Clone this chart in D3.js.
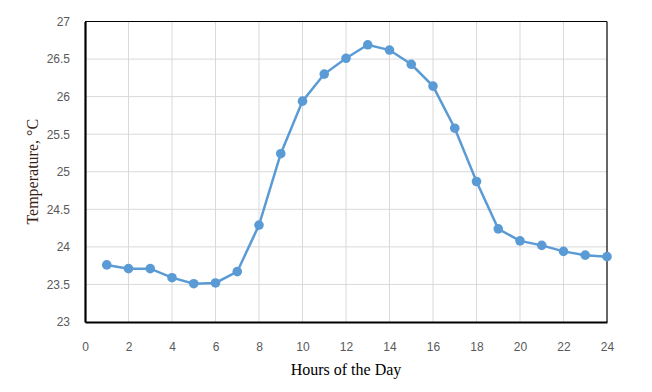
<!DOCTYPE html>
<html>
<head>
<meta charset="utf-8">
<script src="https://cdn.jsdelivr.net/npm/d3@7"></script>
<style>
  body { margin: 0; background: #fff; }
</style>
</head>
<body>
<svg width="652" height="392"></svg>
<script>
// hours of the day and measured temperature
let hours = [1, 2, 3, 4, 5, 6, 7, 8, 9, 10, 11, 12, 13, 14, 15, 16, 17, 18, 19, 20, 21, 22, 23, 24];
let temps = [23.76, 23.71, 23.71, 23.59, 23.51, 23.52, 23.67, 24.29, 25.24, 25.94, 26.30, 26.51,
             26.69, 26.62, 26.43, 26.14, 25.58, 24.87, 24.24, 24.08, 24.02, 23.94, 23.89, 23.87];
let xTicks = [0, 2, 4, 6, 8, 10, 12, 14, 16, 18, 20, 22, 24];
let yTicks = [23, 23.5, 24, 24.5, 25, 25.5, 26, 26.5, 27];

let data = hours.map((h, i) => ({hour: h, temp: temps[i]}));

let svg = d3.select("svg"),
    margin = {top: 21.5, right: 45, bottom: 70, left: 85},
    width = +svg.attr("width") - margin.left - margin.right,
    height = +svg.attr("height") - margin.top - margin.bottom;

let x = d3.scaleLinear().domain([0, 24]).range([0, width]),
    y = d3.scaleLinear().domain([23, 27]).range([height, 0]);

let tickFont = "'Liberation Sans', Arial, sans-serif",
    titleFont = "'Liberation Serif', 'Times New Roman', serif";

let g = svg.append("g")
    .attr("transform", "translate(" + margin.left + "," + margin.top + ")");

// gridlines
g.append("g")
    .selectAll("line")
    .data(xTicks.slice(1, -1))
    .enter().append("line")
    .attr("x1", d => x(d)).attr("x2", d => x(d))
    .attr("y1", 0).attr("y2", height)
    .attr("stroke", "#d9d9d9").attr("stroke-width", 1);
g.append("g")
    .selectAll("line")
    .data(yTicks.slice(1, -1))
    .enter().append("line")
    .attr("x1", 0).attr("x2", width)
    .attr("y1", d => y(d)).attr("y2", d => y(d))
    .attr("stroke", "#d9d9d9").attr("stroke-width", 1);

// frame: thin top/right, heavy left/bottom
g.append("line").attr("x1", 0).attr("x2", width).attr("y1", 0).attr("y2", 0)
    .attr("stroke", "#000").attr("stroke-width", 1.2);
g.append("line").attr("x1", width).attr("x2", width).attr("y1", 0).attr("y2", height)
    .attr("stroke", "#000").attr("stroke-width", 1.2);

// axes (labels only)
let xAxis = g.append("g")
    .attr("transform", "translate(0," + height + ")")
    .call(d3.axisBottom(x).tickValues(xTicks).tickSize(0).tickPadding(20));
xAxis.select(".domain").attr("stroke", "#000").attr("stroke-width", 2.2);

let yAxis = g.append("g")
    .call(d3.axisLeft(y).tickValues(yTicks).tickSize(0).tickPadding(15).tickFormat(d3.format("")));
yAxis.select(".domain").attr("stroke", "#000").attr("stroke-width", 2.2);

[xAxis, yAxis].forEach(a => a
    .attr("font-family", tickFont)
    .attr("font-size", 12)
    .selectAll(".tick text").attr("fill", "#595959"));

// line + markers
let line = d3.line()
    .x(d => x(d.hour))
    .y(d => y(d.temp));

g.append("path")
    .datum(data)
    .attr("fill", "none")
    .attr("stroke", "#5b9bd5")
    .attr("stroke-width", 2.5)
    .attr("d", line);

g.selectAll("circle")
    .data(data)
    .enter().append("circle")
    .attr("cx", d => x(d.hour))
    .attr("cy", d => y(d.temp))
    .attr("r", 4.8)
    .attr("fill", "#5b9bd5");

// titles
svg.append("text")
    .attr("font-family", titleFont)
    .attr("font-size", 16)
    .attr("x", margin.left + width / 2)
    .attr("y", 375)
    .attr("text-anchor", "middle")
    .attr("fill", "#000")
    .text("Hours of the Day");

svg.append("text")
    .attr("font-family", titleFont)
    .attr("font-size", 16)
    .attr("transform", "translate(38," + (margin.top + height / 2) + ") rotate(-90)")
    .attr("text-anchor", "middle")
    .attr("fill", "#3a2212")
    .text("Temperature, °C");
</script>
</body>
</html>
